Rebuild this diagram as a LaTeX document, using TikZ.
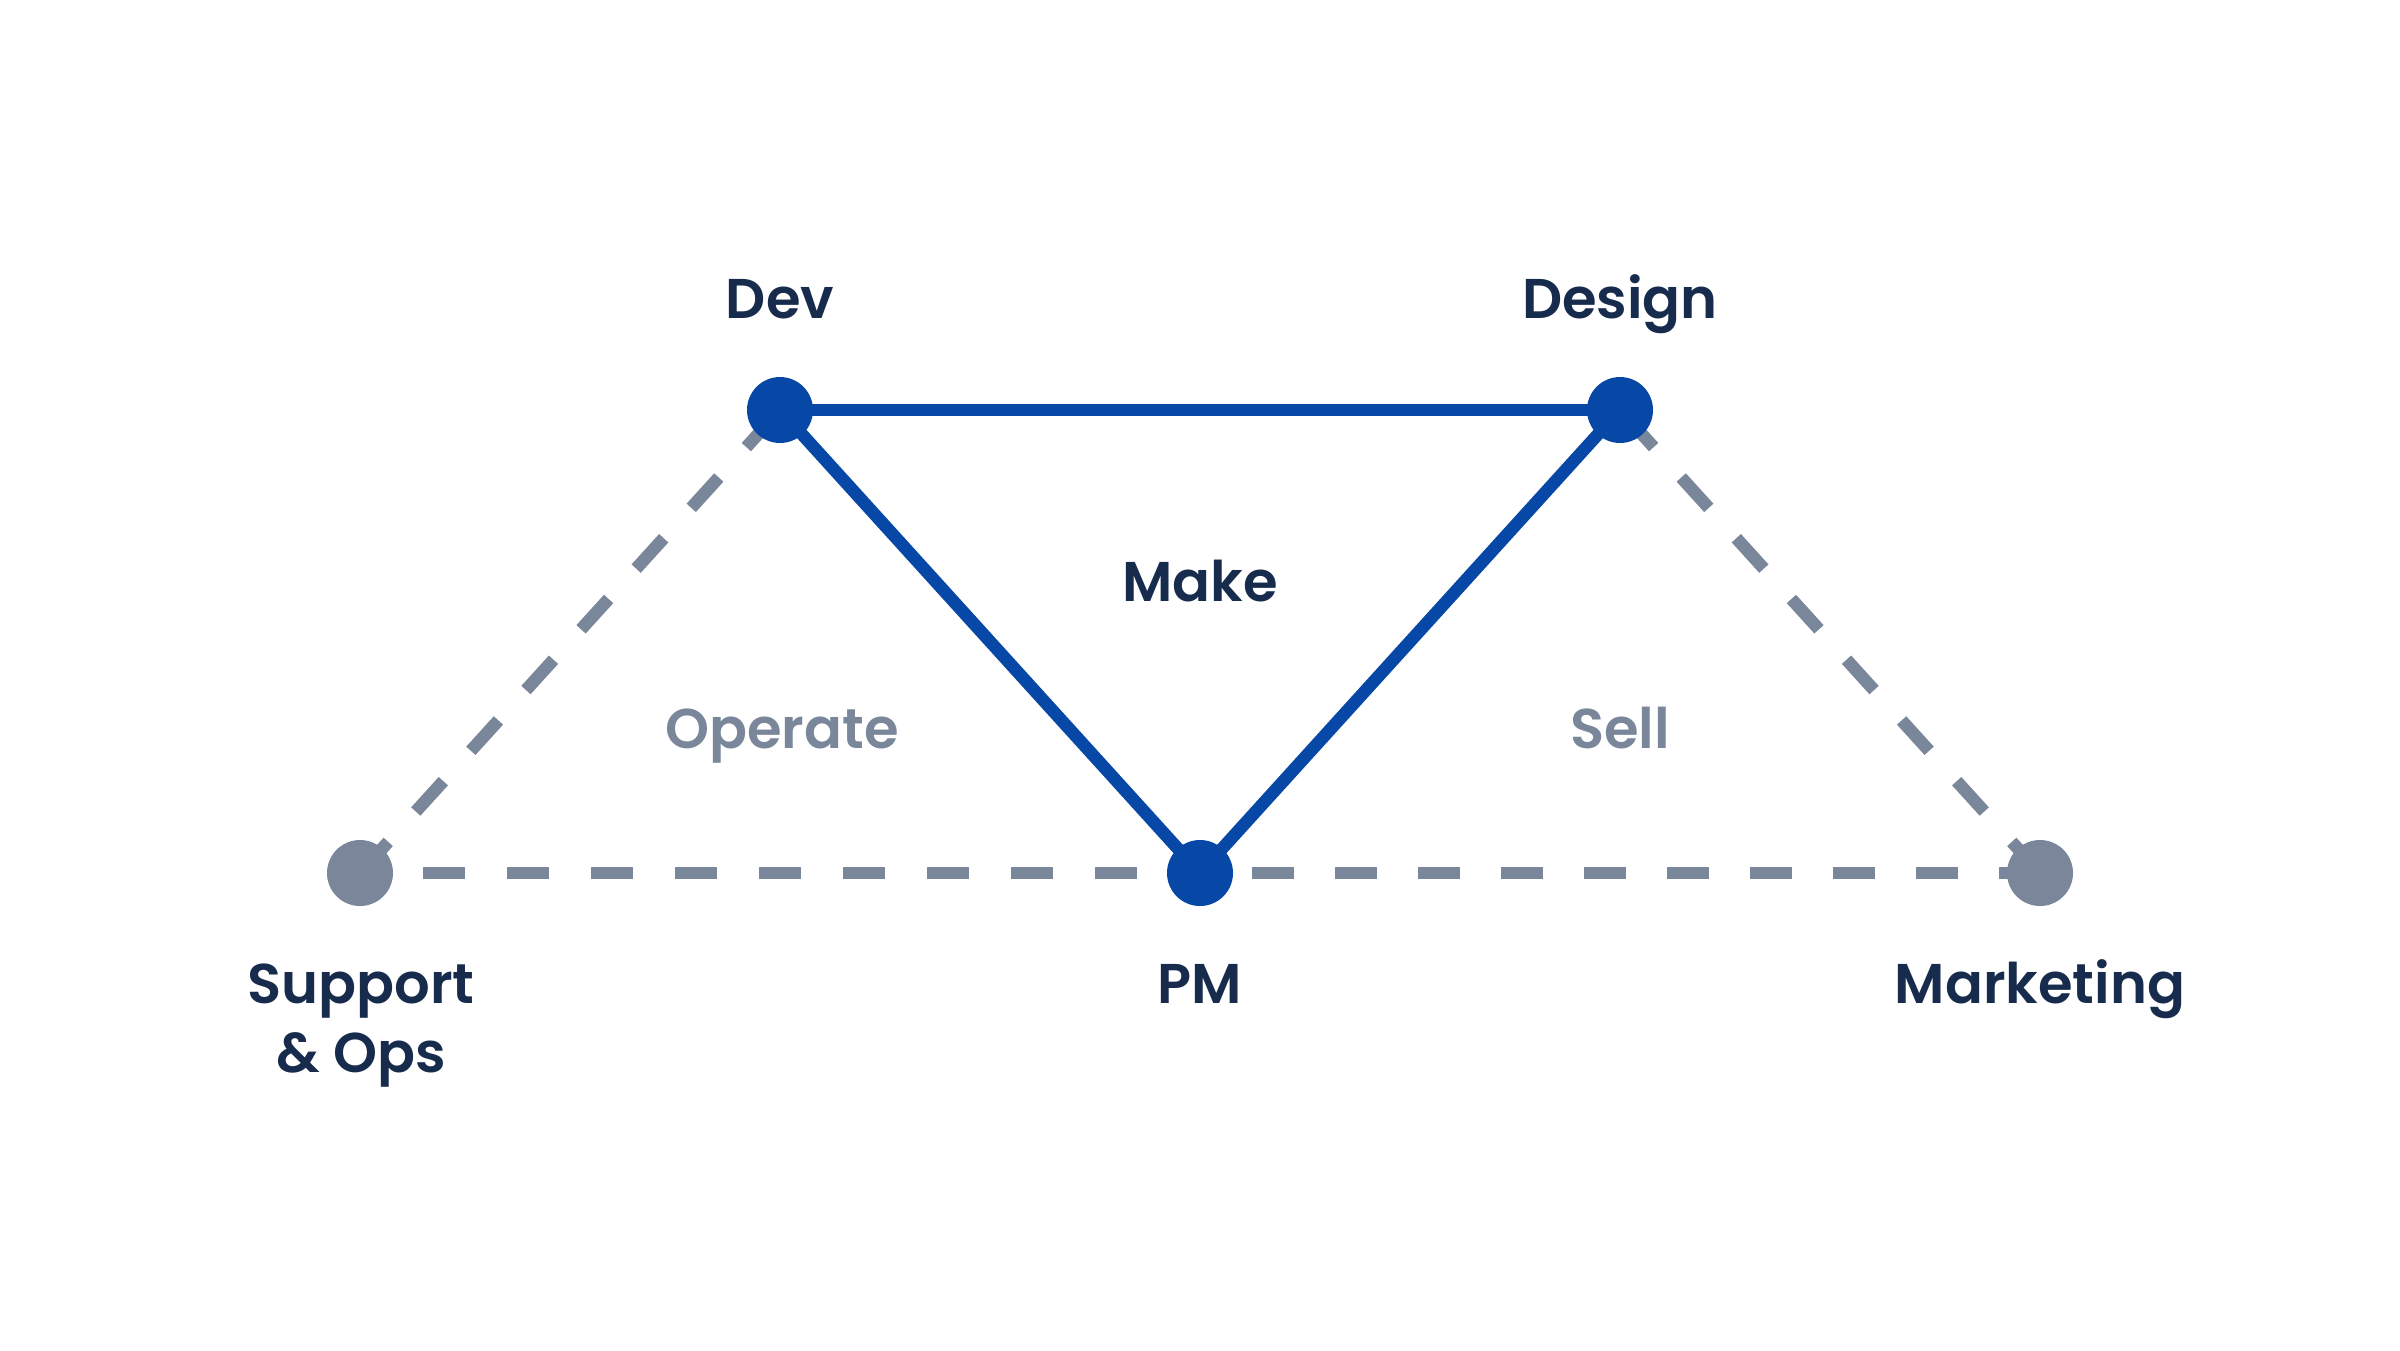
\documentclass[tikz,border=0pt]{standalone}
\usepackage{fontspec}
\setmainfont{Poppins}[BoldFont={Poppins SemiBold}]
\usetikzlibrary{backgrounds}
\definecolor{jblue}{HTML}{0747A6}
\definecolor{jgray}{HTML}{7A869A}
\definecolor{jdark}{HTML}{172B4D}
\begin{document}
\begin{tikzpicture}[x=1pt,y=-1pt,
  bluedot/.style={circle,fill=jblue,minimum size=66pt,inner sep=0pt},
  graydot/.style={circle,fill=jgray,minimum size=66pt,inner sep=0pt},
  solidlink/.style={draw=jblue,line width=12.5pt},
  dashlink/.style={draw=jgray,line width=12.5pt},
  rolelabel/.style={anchor=base,text=jdark,font=\fontsize{56}{69}\selectfont\bfseries,inner sep=0pt},
  arealabel/.style={anchor=base,text=jgray,font=\fontsize{56}{66}\selectfont\bfseries,inner sep=0pt},
  makelabel/.style={anchor=base,text=jdark,font=\fontsize{56}{64}\selectfont\bfseries,inner sep=0pt}]
\useasboundingbox (0,0) rectangle (2400,1350);
% dots
\node[bluedot] (dev) at (780,410) {};
\node[bluedot] (des) at (1620,410) {};
\node[bluedot] (pm) at (1200,873) {};
\node[graydot] (sup) at (360,873) {};
\node[graydot] (mkt) at (2040,873) {};
% connectors
\begin{pgfonlayer}{background}
\draw[dashlink,dash pattern=on 41pt off 41pt,dash phase=81pt] (sup.center) -- (dev.center);
\draw[dashlink,dash pattern=on 41pt off 41pt,dash phase=81pt] (mkt.center) -- (des.center);
\draw[dashlink,dash pattern=on 42pt off 42pt,dash phase=21pt] (sup.center) -- (pm.center);
\draw[dashlink,dash pattern=on 42pt off 41pt,dash phase=1pt] (mkt.center) -- (pm.center);
\draw[solidlink] (dev.center) -- (des.center);
\draw[solidlink] (dev.center) -- (pm.center);
\draw[solidlink] (des.center) -- (pm.center);
\end{pgfonlayer}
% labels
\node[rolelabel] (devl) at (780,318) {Dev};
\node[rolelabel] (desl) at (1620,318) {Design};
\node[makelabel] (make) at (1200,601) {Make};
\node[arealabel] (oper) at (782,748) {Operate};
\node[arealabel] (sell) at (1620,748) {Sell};
\node[rolelabel] (supl) at (361,1003) {Support};
\node[rolelabel] (supl2) at (361,1072) {\& Ops};
\node[rolelabel] (pml) at (1200,1003) {PM};
\node[rolelabel] (mktl) at (2040,1003) {Marketing};
\end{tikzpicture}
\end{document}
